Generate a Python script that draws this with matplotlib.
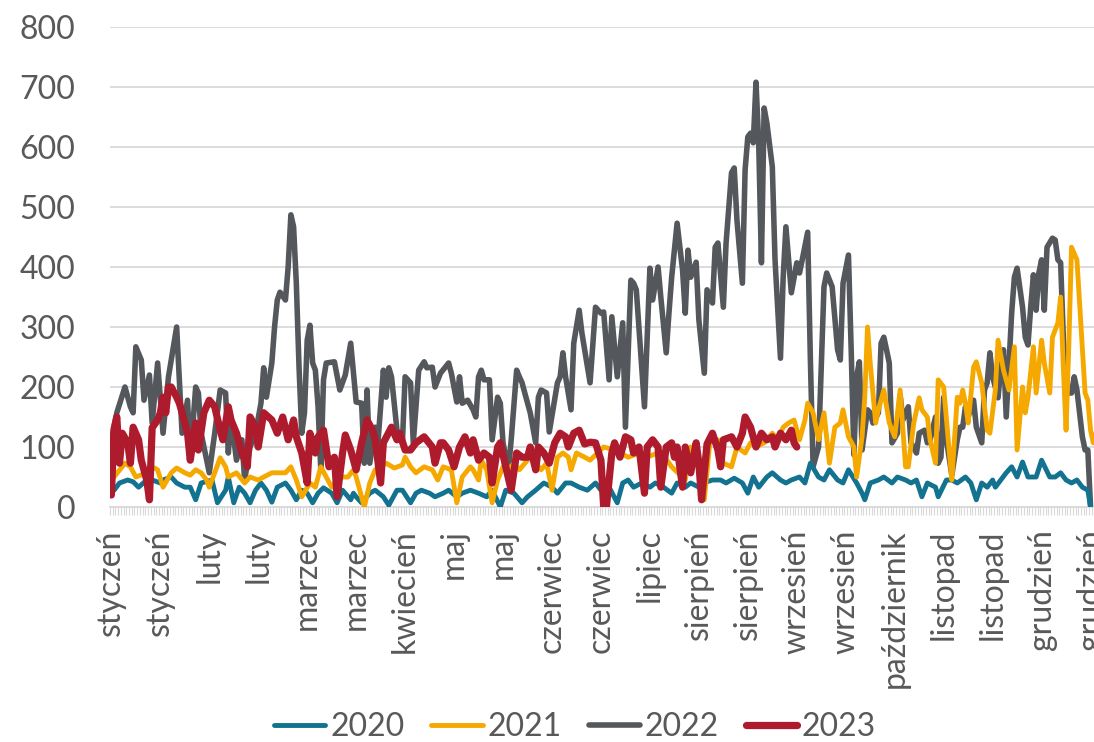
import numpy as np
import matplotlib
matplotlib.use("Agg")
import matplotlib.pyplot as plt

plt.rcParams['font.family'] = ['Lato', 'DejaVu Sans']

# ---- data (day of year, value) ----
month_labels = ['styczeń', 'styczeń', 'luty', 'luty', 'marzec', 'marzec', 'kwiecień',
                'maj', 'maj', 'czerwiec', 'czerwiec', 'lipiec', 'sierpień', 'sierpień',
                'wrzesień', 'wrzesień', 'październik', 'listopad', 'listopad',
                'grudzień', 'grudzień']
label_every = 18  # excel category label interval
n_days = 366

pts_2020 = [(1,28),(3,40),(6,45),(8,42),(10,33),(13,45),(15,45),(18,40),(19,45),(22,50),
    (24,40),(27,33),(29,33),(31,12),(33,40),(37,45),(39,7),(42,28),(43,50),(45,7),
    (47,33),(49,23),(51,7),(53,28),(55,40),(57,28),(59,8),(61,33),(64,40),(66,28),
    (68,12),(70,28),(72,23),(74,7),(76,23),(78,32),(81,23),(83,7),(85,28),(88,12),
    (89,23),(90,17),(92,7),(95,23),(97,28),(100,17),(102,3),(105,28),(107,28),(110,7),
    (112,23),(114,28),(117,23),(119,17),(122,23),(124,28),(127,17),(129,23),(132,28),(135,23),
    (138,17),(140,28),(143,0),(145,28),(148,23),(151,7),(153,17),(156,28),(159,40),(162,33),
    (164,23),(167,40),(169,40),(172,33),(175,28),(178,40),(180,28),(183,33),(186,7),(188,40),
    (190,45),(192,33),(195,40),(198,33),(200,40),(203,33),(206,23),(208,40),(211,33),(213,40),
    (216,33),(219,42),(221,45),(224,45),(226,40),(229,48),(232,40),(234,23),(236,50),(238,33),
    (241,50),(243,57),(246,45),(248,40),(250,45),(253,50),(255,40),(257,73),(260,50),(262,45),
    (264,62),(267,45),(269,40),(271,62),(274,40),(276,23),(277,12),(279,40),(282,45),(284,50),
    (287,40),(289,50),(292,45),(294,40),(296,45),(298,17),(300,40),(303,33),(304,17),(307,45),
    (309,45),(311,40),(314,50),(316,40),(318,12),(320,40),(322,33),(324,45),(325,33),(327,45),
    (329,57),(331,67),(333,50),(335,75),(337,50),(340,50),(342,78),(345,50),(347,50),(349,57),
    (351,45),(353,40),(355,45),(357,33),(359,28),(360,0)]

pts_2021 = [(1,50),(5,73),(7,67),(9,50),(13,57),(15,67),(17,62),(19,33),(22,57),(24,65),
    (27,57),(29,53),(31,62),(33,57),(35,45),(36,33),(38,57),(40,82),(42,67),(43,50),
    (46,57),(49,40),(51,50),(54,45),(56,50),(59,57),(61,57),(64,57),(66,67),(68,45),
    (70,17),(73,40),(75,33),(77,67),(79,50),(81,33),(84,50),(87,50),(89,62),(90,50),
    (93,0),(95,40),(97,62),(99,67),(101,73),(104,65),(107,70),(108,83),(110,67),(112,57),
    (115,67),(118,62),(120,45),(122,67),(125,62),(127,7),(129,50),(132,67),(133,62),(135,45),
    (136,78),(138,62),(140,7),(142,45),(144,67),(146,62),(148,73),(150,62),(153,78),(154,90),
    (156,73),(158,62),(160,73),(162,28),(164,83),(166,90),(168,83),(169,62),(171,90),(174,83),
    (176,78),(181,100),(185,95),(190,83),(194,90),(198,85),(202,92),(206,67),(211,45),(213,100),
    (216,67),(218,12),(220,107),(223,112),(225,73),(228,67),(230,100),(233,90),(235,107),(237,100),
    (240,107),(243,123),(245,112),(247,133),(249,140),(251,145),(253,112),(255,145),(256,173),(258,157),
    (260,112),(262,157),(264,73),(266,133),(268,140),(269,162),(271,117),(273,100),(274,50),(276,117),
    (277,183),(278,300),(279,240),(281,140),(282,162),(284,195),(286,140),(288,117),(290,195),(292,67),
    (293,67),(295,140),(297,182),(298,162),(300,150),(301,112),(303,73),(304,212),(306,200),(308,95),
    (309,45),(311,183),(312,173),(313,195),(314,173),(315,140),(317,233),(318,242),(320,207),(322,128),
    (323,123),(325,195),(326,278),(328,228),(330,195),(332,267),(333,95),(335,200),(336,157),(337,183),
    (339,267),(340,190),(342,278),(343,240),(345,190),(346,283),(348,307),(349,350),(350,233),(351,128),
    (352,267),(353,433),(355,412),(357,262),(358,190),(359,178),(360,128),(361,107),(363,150)]

pts_2022 = [(0,110),(2,157),(5,200),(7,167),(8,157),(9,267),(11,245),(12,178),(14,220),(15,140),
    (17,240),(19,123),(21,217),(24,300),(26,123),(28,178),(29,78),(31,200),(32,190),(33,123),
    (36,57),(38,123),(40,195),(42,190),(43,90),(44,150),(46,78),(48,112),(49,45),(51,100),
    (53,123),(55,173),(56,232),(57,183),(59,240),(60,300),(61,345),(62,358),(64,345),(65,400),
    (66,487),(67,467),(68,373),(69,233),(70,123),(71,157),(72,278),(73,303),(74,240),(75,228),
    (76,167),(77,62),(78,212),(79,240),(82,242),(84,195),(86,220),(88,273),(90,175),(92,173),
    (93,73),(94,195),(95,73),(97,133),(98,107),(100,228),(101,183),(102,232),(103,217),(105,128),
    (107,107),(108,217),(110,207),(111,107),(113,228),(115,242),(116,232),(118,233),(119,200),(121,223),
    (124,240),(125,223),(127,175),(128,217),(129,173),(131,178),(133,162),(134,150),(135,217),(136,228),
    (137,212),(139,212),(140,112),(142,183),(143,173),(144,107),(146,62),(147,112),(149,228),(150,217),
    (151,207),(152,190),(154,157),(156,107),(157,183),(158,195),(160,190),(161,125),(164,207),(165,217),
    (166,257),(167,217),(169,162),(170,273),(172,328),(173,290),(176,207),(178,333),(180,323),(181,325),
    (183,212),(184,317),(186,217),(188,307),(189,133),(191,378),(192,373),(193,362),(196,167),(198,398),
    (199,345),(201,400),(202,350),(204,257),(205,323),(206,383),(208,473),(210,395),(211,323),(212,428),
    (213,383),(215,408),(216,312),(218,223),(219,362),(221,340),(222,433),(223,440),(225,333),(226,440),
    (228,557),(229,565),(230,478),(232,373),(233,562),(234,617),(235,623),(236,607),(237,708),(238,607),
    (239,407),(240,665),(241,640),(243,567),(244,412),(246,248),(247,383),(248,467),(250,357),(252,407),
    (253,390),(254,412),(256,458),(257,245),(258,67),(260,100),(262,367),(263,390),(265,367),(267,262),
    (268,245),(269,373),(271,420),(272,262),(273,87),(274,217),(275,242),(276,95),(278,162),(279,157),
    (280,140),(282,157),(283,273),(284,283),(285,262),(286,240),(287,107),(289,123),(290,187),(291,145),
    (293,167),(294,107),(296,90),(297,123),(299,128),(300,107),(301,112),(303,150),(304,73),(305,83),
    (306,183),(307,112),(309,53),(311,112),(312,133),(313,133),(314,167),(315,150),(317,178),(318,133),
    (320,107),(321,195),(322,207),(323,257),(324,217),(326,182),(327,233),(328,262),(329,150),(331,323),
    (332,383),(333,398),(335,333),(336,283),(337,270),(338,333),(339,387),(340,328),(341,390),(342,412),
    (343,328),(344,433),(346,448),(347,445),(348,412),(349,407),(350,283),(351,190),(353,190),(354,217),
    (355,195),(357,117),(358,95),(359,95),(360,0)]

pts_2023 = [(0,20),(1,130),(2,150),(3,73),(4,123),(6,107),(7,73),(8,133),(10,112),(11,78),
    (13,45),(14,12),(15,132),(17,145),(18,157),(19,183),(20,157),(21,200),(22,200),(24,183),
    (25,173),(26,157),(28,123),(29,78),(31,140),(32,95),(34,157),(36,178),(38,167),(40,128),
    (41,112),(43,167),(44,145),(46,123),(48,90),(50,67),(51,150),(53,133),(54,100),(56,157),
    (59,145),(61,123),(63,150),(65,112),(67,145),(68,117),(70,90),(72,40),(73,123),(75,90),
    (76,117),(78,128),(80,67),(82,83),(83,17),(85,90),(86,120),(88,95),(90,62),(92,107),
    (94,145),(96,128),(97,112),(99,40),(100,107),(103,133),(105,112),(106,123),(108,95),(110,95),
    (112,107),(115,117),(118,100),(119,73),(121,107),(122,107),(124,95),(126,67),(128,100),(130,117),
    (132,90),(133,112),(135,78),(137,90),(139,83),(140,40),(142,100),(143,107),(145,67),(147,28),
    (149,90),(151,83),(153,83),(154,100),(156,62),(157,100),(159,90),(161,73),(163,107),(165,123),
    (167,117),(168,100),(170,123),(172,128),(174,105),(176,108),(178,107),(180,78),(181,0),(182,0),
    (184,90),(185,107),(187,83),(189,117),(191,112),(192,90),(194,100),(196,23),(197,100),(199,112),
    (201,100),(202,33),(204,100),(206,107),(207,83),(208,100),(210,33),(211,100),(213,57),(215,107),
    (216,73),(217,12),(219,105),(221,123),(223,95),(224,67),(225,112),(228,117),(230,100),(232,123),
    (233,150),(235,133),(237,100),(239,123),(241,112),(243,117),(244,100),(246,123),(248,112),(250,128),
    (251,107),(252,100)]

series = [('2020', pts_2020, '#12728F', 3.5, 3),
          ('2021', pts_2021, '#F5A800', 3.5, 4),
          ('2022', pts_2022, '#54575B', 4.0, 2),
          ('2023', pts_2023, '#AE1B2D', 5.2, 5)]

txt = '#595959'
grid_c = '#D9D9D9'

fig = plt.figure(figsize=(10.94, 7.42), dpi=100)
# plot area runs past the right edge, the original picture is cropped there
ax = fig.add_axes([110 / 1094, 235 / 742, 995.5 / 1094, 480 / 742])

handles = []
for name, pts, col, lw, z in series:
    d = [p[0] for p in pts]
    v = [p[1] for p in pts]
    ln, = ax.plot(d, v, color=col, lw=lw, zorder=z, label=name,
                  solid_joinstyle='round', solid_capstyle='round')
    handles.append(ln)

ax.set_xlim(-0.5, n_days - 0.5)
ax.set_ylim(0, 800)

ax.set_yticks(range(0, 801, 100))
ax.yaxis.grid(True, color=grid_c, linewidth=1.3)
ax.set_axisbelow(True)

ax.set_xticks(range(0, n_days, label_every)[:len(month_labels)])
ax.set_xticklabels(month_labels, rotation=90)
ax.set_xticks(np.arange(-0.5, n_days, 1), minor=True)

ax.tick_params(axis='y', length=0, pad=25, labelsize=23, labelcolor=txt)
ax.tick_params(axis='x', which='major', length=0, pad=16, labelsize=23, labelcolor=txt)
ax.tick_params(axis='x', which='minor', length=6, width=0.8, color=grid_c, direction='out')

for s in ['top', 'right', 'left']:
    ax.spines[s].set_visible(False)
ax.spines['bottom'].set_color(grid_c)
ax.spines['bottom'].set_linewidth(1.3)

leg = fig.legend(handles, [h.get_label() for h in handles], loc='center',
                 bbox_to_anchor=(575 / 1094, 1 - 727 / 742), ncol=4, frameon=False,
                 fontsize=23, handlelength=1.6, handletextpad=0.15, columnspacing=0.85)
for t in leg.get_texts():
    t.set_color(txt)

fig.savefig('out.png', dpi=100)
